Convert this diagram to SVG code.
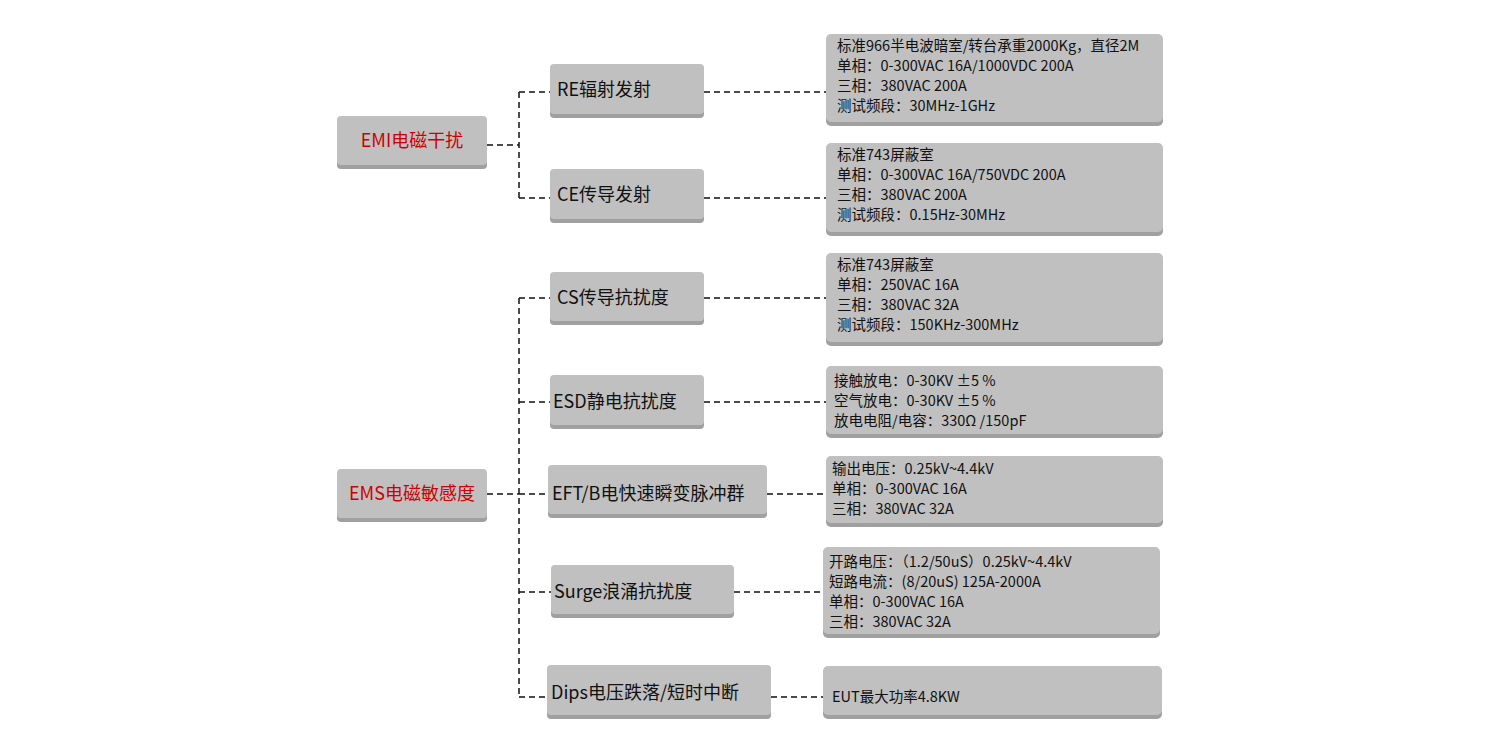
<svg xmlns="http://www.w3.org/2000/svg" width="1500" height="750" viewBox="0 0 1500 750">
<style>
.b{fill:#c0c0c0}
.s{fill:#a0a0a0}
.t{font-family:"Noto Sans CJK SC","Noto Sans",sans-serif;font-size:18px;fill:#111}
.r{fill:#d00000}
.i{font-family:"Noto Sans CJK SC","Noto Sans",sans-serif;font-size:14.5px;fill:#111}
.c{fill:none;stroke:#111;stroke-width:1.5;stroke-dasharray:6 4}
</style>
<rect width="1500" height="750" fill="#fff"/>
<g id="connectors">
<path class="c" d="M487 145H519M519 92V198M519 92H550M519 198H550"/>
<path class="c" d="M487 494H519M519 298V697M519 298H550M519 402H550M519 494H548M519 592H551M519 697H547"/>
<path class="c" d="M704 92H826M704 198H826M704 298H826M704 402H826M767 494H826M734 592H823M771 697H823"/>
</g>
<g id="emi"><rect class="s" x="337" y="118" width="150" height="51" rx="4"/><rect class="b" x="337" y="116" width="150" height="49" rx="4"/><text class="t r" x="412" y="147" text-anchor="middle">EMI电磁干扰</text></g>
<g id="ems"><rect class="s" x="337" y="471" width="150" height="51" rx="4"/><rect class="b" x="337" y="469" width="150" height="49" rx="4"/><text class="t r" x="412" y="500" text-anchor="middle">EMS电磁敏感度</text></g>
<g id="re"><rect class="s" x="550" y="66" width="154" height="52" rx="4"/><rect class="b" x="550" y="64" width="154" height="50" rx="4"/><text class="t" x="557" y="96">RE辐射发射</text></g>
<g id="ce"><rect class="s" x="550" y="171" width="154" height="52" rx="4"/><rect class="b" x="550" y="169" width="154" height="50" rx="4"/><text class="t" x="557" y="201">CE传导发射</text></g>
<g id="cs"><rect class="s" x="550" y="274" width="154" height="51" rx="4"/><rect class="b" x="550" y="272" width="154" height="49" rx="4"/><text class="t" x="557" y="304">CS传导抗扰度</text></g>
<g id="esd"><rect class="s" x="550" y="377" width="154" height="52" rx="4"/><rect class="b" x="550" y="375" width="154" height="50" rx="4"/><text class="t" x="553" y="408">ESD静电抗扰度</text></g>
<g id="eft"><rect class="s" x="548" y="467" width="219" height="51" rx="4"/><rect class="b" x="548" y="465" width="219" height="49" rx="4"/><text class="t" x="552" y="500">EFT/B电快速瞬变脉冲群</text></g>
<g id="surge"><rect class="s" x="551" y="567" width="183" height="51" rx="4"/><rect class="b" x="551" y="565" width="183" height="49" rx="4"/><text class="t" x="554" y="598">Surge浪涌抗扰度</text></g>
<g id="dips"><rect class="s" x="547" y="667" width="224" height="52" rx="4"/><rect class="b" x="547" y="665" width="224" height="50" rx="4"/><text class="t" x="551" y="699">Dips电压跌落/短时中断</text></g>
<g id="re-info"><rect class="s" x="826" y="36" width="337" height="90" rx="5"/><rect class="b" x="826" y="34" width="337" height="88" rx="5"/>
<text class="i" x="837" y="51">标准966半电波暗室/转台承重2000Kg，直径2M</text><text class="i" x="837" y="71">单相：0-300VAC  16A/1000VDC  200A</text><text class="i" x="837" y="91">三相：380VAC  200A</text><text class="i" x="837" y="111">测试频段：30MHz-1GHz</text></g>
<g id="ce-info"><rect class="s" x="826" y="145" width="337" height="91" rx="5"/><rect class="b" x="826" y="143" width="337" height="89" rx="5"/>
<text class="i" x="837" y="160">标准743屏蔽室</text><text class="i" x="837" y="180">单相：0-300VAC  16A/750VDC  200A</text><text class="i" x="837" y="200">三相：380VAC  200A</text><text class="i" x="837" y="220">测试频段：0.15Hz-30MHz</text></g>
<g id="cs-info"><rect class="s" x="826" y="255" width="337" height="91" rx="5"/><rect class="b" x="826" y="253" width="337" height="89" rx="5"/>
<text class="i" x="837" y="270">标准743屏蔽室</text><text class="i" x="837" y="290">单相：250VAC  16A</text><text class="i" x="837" y="310">三相：380VAC  32A</text><text class="i" x="837" y="330">测试频段：150KHz-300MHz</text></g>
<g id="esd-info"><rect class="s" x="826" y="368" width="337" height="70" rx="5"/><rect class="b" x="826" y="366" width="337" height="68" rx="5"/>
<text class="i" x="834" y="386">接触放电：0-30KV  ±5  %</text><text class="i" x="834" y="406">空气放电：0-30KV  ±5  %</text><text class="i" x="834" y="426">放电电阻/电容：330Ω  /150pF</text></g>
<g id="eft-info"><rect class="s" x="826" y="458" width="337" height="69" rx="5"/><rect class="b" x="826" y="456" width="337" height="67" rx="5"/>
<text class="i" x="832" y="474">输出电压：0.25kV~4.4kV</text><text class="i" x="832" y="494">单相：0-300VAC  16A</text><text class="i" x="832" y="514">三相：380VAC  32A</text></g>
<g id="surge-info"><rect class="s" x="823" y="549" width="337" height="89" rx="5"/><rect class="b" x="823" y="547" width="337" height="87" rx="5"/>
<text class="i" x="829" y="567">开路电压：（1.2/50uS）0.25kV~4.4kV</text><text class="i" x="829" y="587">短路电流：(8/20uS)  125A-2000A</text><text class="i" x="829" y="607">单相：0-300VAC  16A</text><text class="i" x="829" y="627">三相：380VAC  32A</text></g>
<g id="dips-info"><rect class="s" x="823" y="668" width="339" height="51" rx="5"/><rect class="b" x="823" y="666" width="339" height="49" rx="5"/>
<text class="i" x="832" y="702">EUT最大功率4.8KW</text></g>
</svg>
